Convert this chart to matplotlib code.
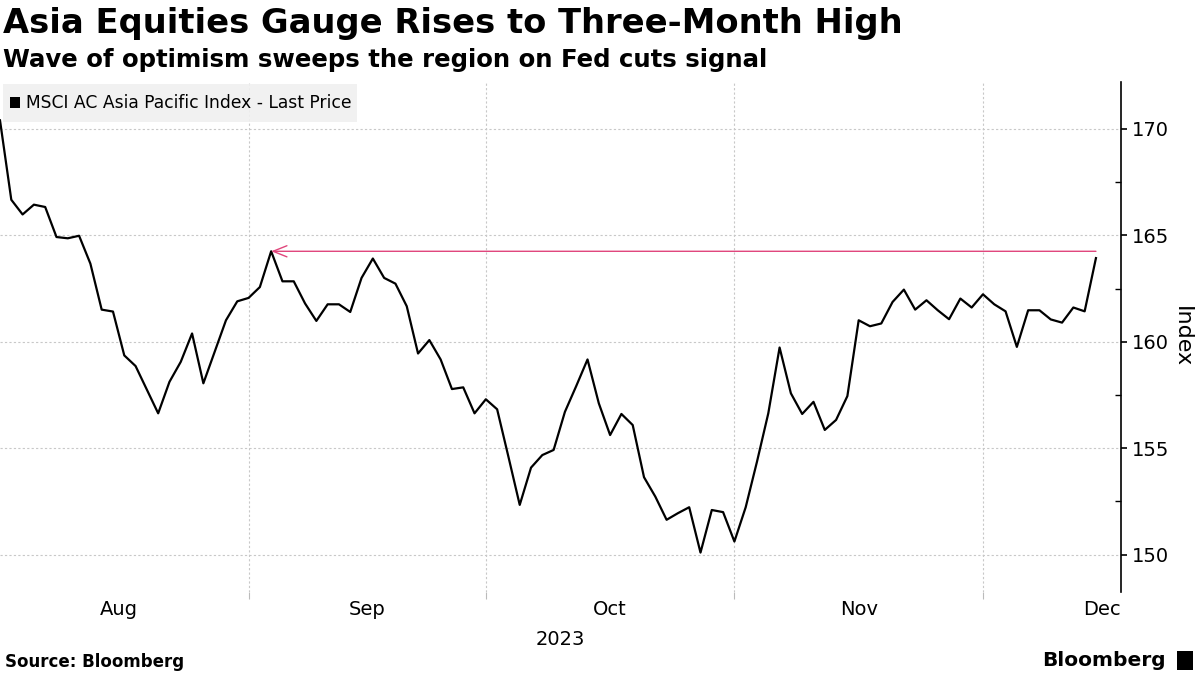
import numpy as np
import matplotlib.pyplot as plt
import pandas as pd
from matplotlib.patches import Rectangle

# MSCI AC Asia Pacific Index, daily close, 1 Aug - 14 Dec 2023
dates = pd.bdate_range('2023-08-01', '2023-12-14')
prices = [170.4, 166.67, 165.98, 166.44, 166.33, 164.92, 164.86, 164.98, 163.67, 161.51,
          161.42, 159.36, 158.86, 157.75, 156.64, 158.12, 159.06, 160.39, 158.05, 159.53,
          161.01, 161.90, 162.06, 162.57, 164.25, 162.84, 162.84, 161.80, 160.98, 161.76,
          161.76, 161.40, 163.00, 163.91, 163.00, 162.73, 161.67, 159.45, 160.08, 159.17,
          157.78, 157.86, 156.64, 157.30, 156.83, 154.60, 152.34, 154.09, 154.68, 154.92,
          156.71, 157.92, 159.17, 157.11, 155.62, 156.61, 156.09, 153.64, 152.73, 151.64,
          151.95, 152.23, 150.10, 152.10, 152.00, 150.62, 152.23, 154.37, 156.64, 159.73,
          157.58, 156.61, 157.18, 155.86, 156.33, 157.45, 161.01, 160.73, 160.86, 161.87,
          162.45, 161.51, 161.95, 161.48, 161.06, 162.03, 161.61, 162.23, 161.76, 161.43,
          159.76, 161.48, 161.48, 161.05, 160.90, 161.61, 161.43, 163.93]
peak_idx = 24  # 31 Aug high, the level marked by the red arrow
month_names = ['Aug', 'Sep', 'Oct', 'Nov', 'Dec']
y_ticks = [150, 155, 160, 165, 170]
y_minor = [152.5, 157.5, 162.5, 167.5]

plt.rcParams['font.family'] = ['DejaVu Sans']

# trading-day axis: Aug 1 -> 0
all_days = pd.bdate_range('2023-07-31', '2023-12-29')
s = pd.Series(np.arange(len(all_days)) - 1, index=all_days)
month_ends = s.groupby(s.index.to_period('M')).max().values  # Jul..Dec
grid_pos = month_ends[1:5]
label_pos = (month_ends[:-1] + month_ends[1:]) / 2

x = np.arange(len(dates))

fig = plt.figure(figsize=(12, 6.75), dpi=100)
ax = fig.add_axes([0.0, 0.123, 0.934, 0.7555])

ax.plot(x, prices, color='black', lw=1.6, zorder=3)

level = prices[peak_idx]
ax.annotate('', xy=(peak_idx, level), xytext=(x[-1], level),
            arrowprops=dict(arrowstyle='->,head_length=1.0,head_width=0.4',
                            color='#e0457b', lw=1.0, shrinkA=0, shrinkB=0), zorder=4)

for sp in ['left', 'top', 'bottom']:
    ax.spines[sp].set_visible(False)
ax.spines['right'].set_linewidth(1.2)

ax.yaxis.tick_right()
ax.set_yticks(y_ticks)
ax.set_yticks(y_minor, minor=True)
ax.tick_params(axis='y', which='major', direction='out', length=4, width=1.2,
               labelsize=14, pad=4)
ax.tick_params(axis='y', which='minor', direction='in', length=4, width=1)

ax.set_xticks(grid_pos)
ax.set_xticklabels([])
ax.set_xticks(label_pos, minor=True)
ax.set_xticklabels(month_names, minor=True, fontsize=14)
ax.tick_params(axis='x', which='major', length=5, color='#bbbbbb')
ax.tick_params(axis='x', which='minor', length=0, pad=6)

ax.set_xlim(0, 99.2)
ax.set_ylim(148.25, 172.2)

ax.grid(axis='y', color='#c8c8c8', ls=(0, (2, 2)), lw=0.8)
ax.grid(axis='x', which='major', color='#c8c8c8', ls=(0, (2, 2)), lw=0.8)

ax.yaxis.set_label_position('right')
ax.set_ylabel('Index', fontsize=16, rotation=-90, labelpad=16)

ax.text(0.5, -0.075, '2023', transform=ax.transAxes, ha='center', va='top', fontsize=14)

# legend box
fig.patches.append(Rectangle((3 / 1200, 1 - 122 / 675), 354 / 1200, 38 / 675,
                             transform=fig.transFigure, facecolor='#f0f0f0',
                             edgecolor='none', alpha=0.9, zorder=5))
fig.patches.append(Rectangle((10 / 1200, 1 - 108 / 675), 10 / 1200, 11 / 675,
                             transform=fig.transFigure, facecolor='black', zorder=6))
fig.text(26 / 1200, 1 - 103 / 675, 'MSCI AC Asia Pacific Index - Last Price',
         fontsize=12.3, va='center', ha='left', zorder=6)

fig.text(3 / 1200, 1 - 24 / 675, 'Asia Equities Gauge Rises to Three-Month High',
         fontsize=24.3, fontweight='bold', va='center', ha='left')
fig.text(3 / 1200, 1 - 60 / 675, 'Wave of optimism sweeps the region on Fed cuts signal',
         fontsize=17.6, fontweight='bold', va='center', ha='left')

fig.text(5 / 1200, 1 - 662 / 675, 'Source: Bloomberg', fontsize=12, fontweight='bold',
         va='center', ha='left')
fig.text(1166 / 1200, 1 - 661 / 675, 'Bloomberg', fontsize=14.5, fontweight='bold',
         va='center', ha='right')
fig.patches.append(Rectangle((1177 / 1200, 1 - 670 / 675), 16 / 1200, 19 / 675,
                             transform=fig.transFigure, facecolor='black', zorder=6))

fig.savefig('out.png', dpi=100)
